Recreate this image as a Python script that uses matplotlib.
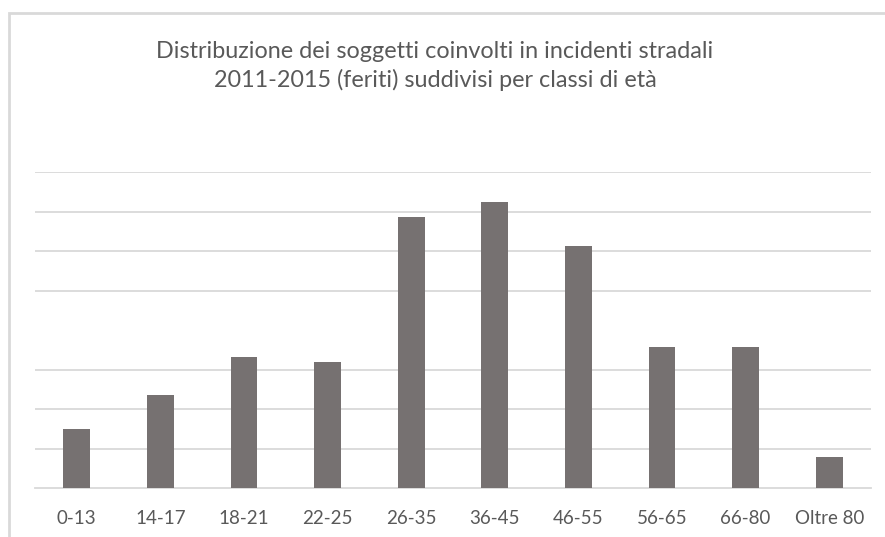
import matplotlib.pyplot as plt
from matplotlib.patches import Rectangle

# fasce di età e valori (in unità di griglia, asse senza etichette)
classi = ["0-13", "14-17", "18-21", "22-25", "26-35",
          "36-45", "46-55", "56-65", "66-80", "Oltre 80"]
feriti = [1.49, 2.35, 3.32, 3.19, 6.86, 7.24, 6.13, 3.57, 3.57, 0.79]
griglia = [1, 2, 3, 5, 6, 7, 8]

titolo = ("Distribuzione dei soggetti coinvolti in incidenti stradali\n"
          "2011-2015 (feriti) suddivisi per classi di età")

plt.rcParams["font.family"] = ["Lato", "DejaVu Sans"]

fig = plt.figure(figsize=(8.85, 5.37), dpi=100)
ax = fig.add_axes([35 / 885, 1 - 488 / 537, 836 / 885, 316 / 537])

ax.bar(range(len(classi)), feriti, width=0.32, color="#767171", zorder=3)

ax.set_xlim(-0.5, len(classi) - 0.5)
ax.set_ylim(0, 8)
ax.set_yticks(griglia)
ax.set_yticklabels([])
ax.tick_params(axis="y", length=0)
ax.yaxis.grid(True, color="#d9d9d9", linewidth=1.3, zorder=0)
ax.set_xticks(range(len(classi)))
ax.set_xticklabels(classi, fontsize=13.5, color="#595959")
ax.tick_params(axis="x", length=0, pad=16)

for s in ["top", "right", "left"]:
    ax.spines[s].set_visible(False)
ax.spines["bottom"].set_color("#d9d9d9")
ax.spines["bottom"].set_linewidth(1.3)

fig.text(435 / 885, 1 - 66 / 537, titolo, ha="center", va="center",
         fontsize=16.8, color="#595959", linespacing=1.4)

# cornice del grafico
fig.patches.append(Rectangle((9 / 885, -0.1), 1.2, 1 - 13 / 537 + 0.1,
                             transform=fig.transFigure, fill=False,
                             edgecolor="#d9d9d9", linewidth=2))

fig.savefig("out.png", dpi=100)
